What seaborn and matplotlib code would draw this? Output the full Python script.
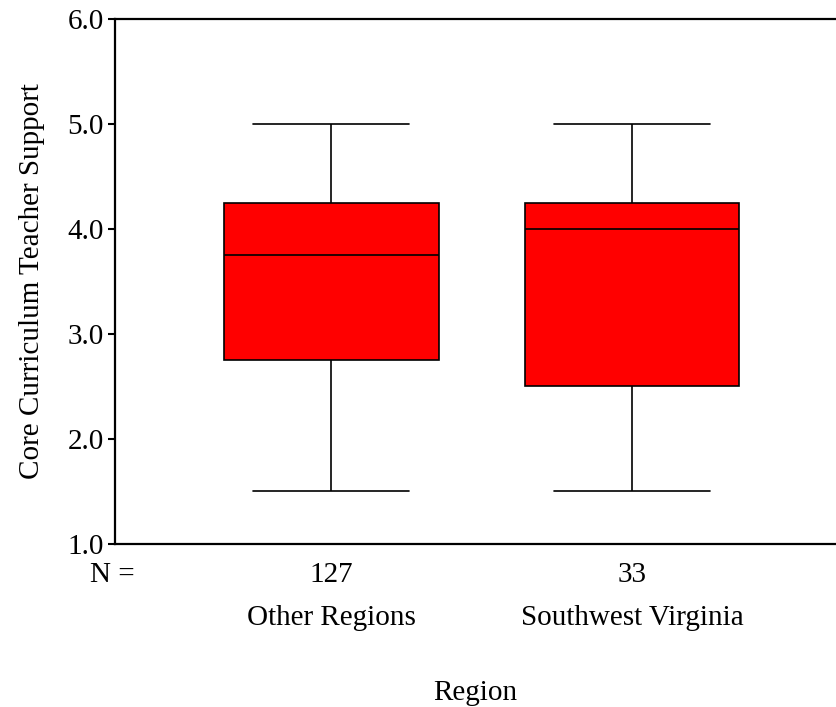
import matplotlib
matplotlib.use("Agg")
import matplotlib.pyplot as plt
import seaborn as sns
import pandas as pd
import numpy as np

# Data: five-number summaries (min, Q1, median, Q3, max)
categories = ["Other Regions", "Southwest Virginia"]
counts = [127, 33]
other_regions = [1.5, 2.75, 3.75, 4.25, 5.0]
southwest_virginia = [1.5, 2.5, 4.0, 4.25, 5.0]
y_ticks = [1.0, 2.0, 3.0, 4.0, 5.0, 6.0]
y_tick_labels = ["1.0", "2.0", "3.0", "4.0", "5.0", "6.0"]

df = pd.DataFrame({
    "Region": [categories[0]] * len(other_regions) + [categories[1]] * len(southwest_virginia),
    "Score": other_regions + southwest_virginia,
})

sns.set_style("white")
plt.rcParams["font.family"] = ["Liberation Serif", "DejaVu Serif"]
plt.rcParams["text.color"] = "black"
plt.rcParams["axes.labelcolor"] = "black"
plt.rcParams["xtick.color"] = "black"
plt.rcParams["ytick.color"] = "black"
FS = 21

fig = plt.figure(figsize=(8.36, 7.07), dpi=100)
ax = fig.add_axes([0.1376, 0.2306, 0.8624, 0.7425])

sns.boxplot(data=df, x="Region", y="Score", order=categories, color="#FF0000",
            saturation=1, width=0.714, linecolor="black", linewidth=1.2,
            whis=1.5, ax=ax)

# widen caps to match reference (cap ~0.73 of box width)
for line in ax.lines:
    xd = np.asarray(line.get_xdata(), dtype=float)
    yd = np.asarray(line.get_ydata(), dtype=float)
    if len(xd) == 2 and yd[0] == yd[1]:
        c = xd.mean()
        half = abs(xd[1] - xd[0]) / 2
        if half < 0.714 / 2 - 1e-6:
            line.set_xdata([c - 0.26, c + 0.26])
    line.set_color("black")

ax.set_ylim(1.0, 6.0)
ax.set_xlim(-0.718, 1.678)
ax.set_yticks(y_ticks)
ax.set_yticklabels(y_tick_labels, fontsize=FS)
ax.tick_params(axis="y", direction="out", length=5, width=1.5, pad=3, left=True,
               colors="black")
ax.tick_params(axis="x", length=0, pad=44, labelsize=FS, colors="black")
ax.set_xticks(range(len(categories)))
ax.set_xticklabels(categories)

for s in ["left", "top", "bottom"]:
    ax.spines[s].set_visible(True)
    ax.spines[s].set_linewidth(1.6)
    ax.spines[s].set_color("black")
ax.spines["right"].set_visible(False)

# N row
trans = matplotlib.transforms.blended_transform_factory(ax.transData, ax.transAxes)
for i, n in enumerate(counts):
    ax.text(i, -0.06, str(n), transform=trans, ha="center", va="center",
            fontsize=FS, color="black")
ax.text(-0.004, -0.06, "N =", transform=ax.transAxes, ha="center", va="center",
        fontsize=FS, color="black")

ax.set_xlabel("Region", fontsize=FS, labelpad=35, color="black")
ax.set_ylabel("Core Curriculum Teacher Support", fontsize=FS, labelpad=16, color="black")

fig.savefig("out.png", dpi=100)
